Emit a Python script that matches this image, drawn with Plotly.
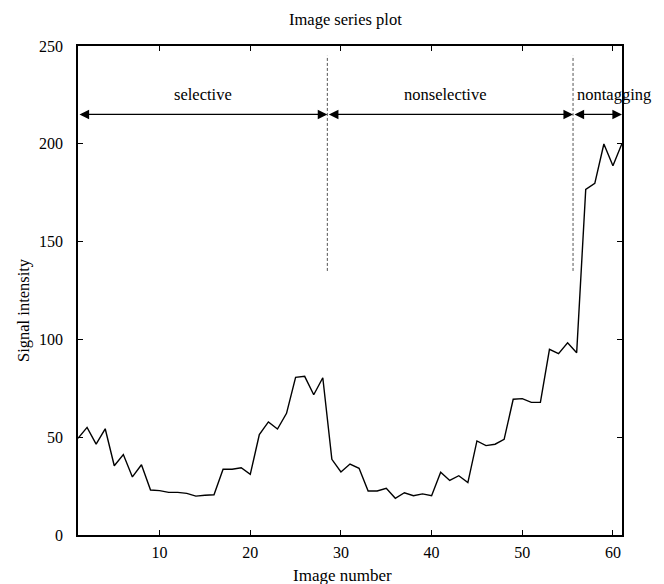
import plotly.graph_objects as go

image_number = list(range(1, 62))
signal_intensity = [
    49.4, 55.0, 46.5, 54.3, 35.4, 41.1, 29.7, 35.9, 23.0, 22.7,
    21.8, 21.8, 21.3, 19.9, 20.3, 20.6, 33.6, 33.6, 34.4, 31.0,
    51.3, 57.8, 54.2, 62.2, 80.6, 81.1, 71.7, 80.4, 38.7, 32.2,
    36.3, 34.1, 22.5, 22.5, 23.9, 18.8, 21.6, 20.1, 21.0, 20.1,
    32.1, 27.9, 30.3, 26.8, 48.1, 45.7, 46.4, 48.9, 69.4, 69.7,
    67.8, 67.8, 94.9, 92.7, 98.3, 93.2, 176.7, 179.8, 199.9, 188.8,
    200.2,
]

x_ticks = [10, 20, 30, 40, 50, 60]
y_ticks = [0, 50, 100, 150, 200, 250]

# phase boundaries (image number) and labels
phase_bounds = [1, 28.5, 55.6, 61]
phase_labels = ["selective", "nonselective", "nontagging"]
phase_label_x = [14.75, 41.5, 55.8]
phase_label_anchor = ["center", "center", "left"]
arrow_y = 215
label_y = 225
divider_x = [28.5, 55.6]
divider_y = [135, 245]

FONT = "Liberation Serif"

# page offset (browser body margin) compensation
OFF = 8
W, H = 664 - OFF, 584 - OFF
PL, PR, PT, PB = 78 - OFF, 622 - OFF, 46 - OFF, 535 - OFF  # plot box in figure px


def px_to_paper(px, py):
    return (px - PL) / (PR - PL), (PB - py) / (PB - PT)


fig = go.Figure()
fig.add_trace(go.Scatter(
    x=image_number, y=signal_intensity, mode="lines",
    line=dict(color="black", width=1.4), showlegend=False,
))

for xd in divider_x:
    fig.add_shape(type="line", xref="x", yref="y",
                  x0=xd, x1=xd, y0=divider_y[0], y1=divider_y[1],
                  line=dict(color="#555555", width=1, dash="3px,2px"))

for i in range(len(phase_labels)):
    fig.add_annotation(
        x=phase_bounds[i + 1], y=arrow_y, ax=phase_bounds[i], ay=arrow_y,
        xref="x", yref="y", axref="x", ayref="y", text="",
        showarrow=True, arrowside="end+start", arrowhead=2, startarrowhead=2,
        arrowsize=1.6, startarrowsize=1.6, arrowwidth=1.2, arrowcolor="black",
    )
    fig.add_annotation(
        x=phase_label_x[i], y=label_y, xref="x", yref="y",
        text=phase_labels[i], showarrow=False, xanchor=phase_label_anchor[i],
        font=dict(family=FONT, size=16.5, color="black"),
    )

# titles (positions given in page pixels of the reference, minus offset)
tx, ty = px_to_paper(345.5 - OFF, 20 - OFF)
fig.add_annotation(text="Image series plot", x=tx, y=ty, xref="paper", yref="paper",
                   showarrow=False, xanchor="center", yanchor="middle",
                   font=dict(family=FONT, size=16.5, color="black"))
tx, ty = px_to_paper(342 - OFF, 575 - OFF)
fig.add_annotation(text="Image number", x=tx, y=ty, xref="paper", yref="paper",
                   showarrow=False, xanchor="center", yanchor="middle",
                   font=dict(family=FONT, size=17, color="black"))
tx, ty = px_to_paper(23 - OFF, 310 - OFF)
fig.add_annotation(text="Signal intensity", x=tx, y=ty, xref="paper", yref="paper",
                   showarrow=False, xanchor="center", yanchor="middle", textangle=-90,
                   font=dict(family=FONT, size=16.5, color="black"))

axis_common = dict(
    showline=True, linecolor="black", linewidth=1.5, mirror="ticks",
    ticks="inside", ticklen=5, tickcolor="black", tickwidth=1,
    showgrid=False, zeroline=False,
    tickfont=dict(family=FONT, size=16, color="black"),
)

fig.update_layout(
    width=W, height=H,
    margin=dict(l=PL, r=W - PR, t=PT, b=H - PB),
    paper_bgcolor="white", plot_bgcolor="white",
    xaxis=dict(range=[1, 61], tickvals=x_ticks, ticklabelstandoff=2, **axis_common),
    yaxis=dict(range=[0, 250], tickvals=y_ticks, ticklabelstandoff=10, **axis_common),
    showlegend=False,
)

fig.write_html("out.html")
